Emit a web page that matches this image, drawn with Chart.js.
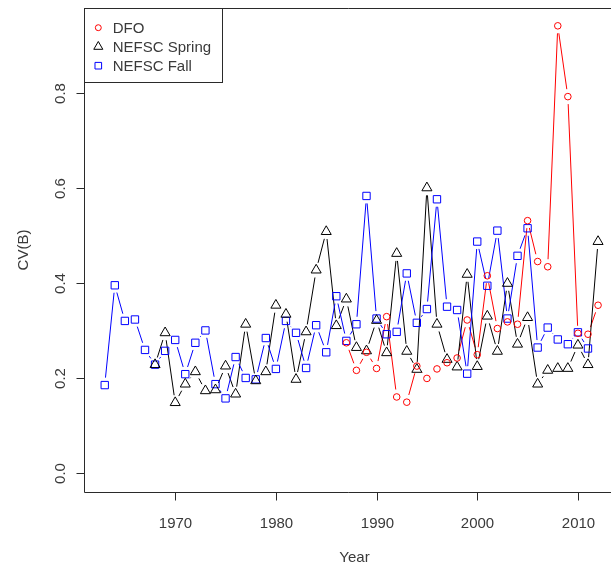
<!DOCTYPE html>
<html>
<head>
<meta charset="utf-8">
<script src="https://cdn.jsdelivr.net/npm/chart.js@4.4.1/dist/chart.umd.min.js"></script>
<style>
  html, body { margin: 0; padding: 0; background: #fff; }
  canvas { display: block; }
</style>
</head>
<body>
<canvas id="cvChart" width="611" height="570"></canvas>
<script>
// Survey years and CV(B) per survey (null = no survey that year)
const years = [1963, 1964, 1965, 1966, 1967, 1968, 1969, 1970, 1971, 1972,
               1973, 1974, 1975, 1976, 1977, 1978, 1979, 1980, 1981, 1982,
               1983, 1984, 1985, 1986, 1987, 1988, 1989, 1990, 1991, 1992,
               1993, 1994, 1995, 1996, 1997, 1998, 1999, 2000, 2001, 2002,
               2003, 2004, 2005, 2006, 2007, 2008, 2009, 2010, 2011, 2012];

const dfo = [null, null, null, null, null, null, null, null, null, null,
             null, null, null, null, null, null, null, null, null, null,
             null, null, null, null, 0.275, 0.217, 0.255, 0.221, 0.330, 0.161,
             0.150, 0.226, 0.200, 0.220, 0.233, 0.243, 0.323, 0.250, 0.416, 0.305,
             0.319, 0.314, 0.532, 0.446, 0.435, 0.942, 0.793, 0.295, 0.293, 0.354];

const spring = [null, null, null, null, null, 0.229, 0.296, 0.149, 0.188, 0.214,
                0.174, 0.176, 0.226, 0.167, 0.314, 0.195, 0.214, 0.354, 0.335, 0.198,
                0.298, 0.428, 0.509, 0.311, 0.367, 0.265, 0.258, 0.322, 0.254, 0.463,
                0.257, 0.219, 0.601, 0.314, 0.240, 0.224, 0.419, 0.225, 0.331, 0.257,
                0.400, 0.272, 0.328, 0.188, 0.217, 0.221, 0.221, 0.270, 0.229, 0.488];

const fall = [0.186, 0.396, 0.321, 0.324, 0.260, 0.229, 0.258, 0.281, 0.209, 0.275,
              0.301, 0.188, 0.158, 0.245, 0.201, 0.198, 0.285, 0.220, 0.321, 0.296,
              0.222, 0.312, 0.255, 0.373, 0.279, 0.314, 0.584, 0.326, 0.293, 0.298,
              0.421, 0.317, 0.346, 0.577, 0.351, 0.344, 0.210, 0.488, 0.395, 0.511,
              0.326, 0.458, 0.516, 0.265, 0.307, 0.282, 0.272, 0.297, 0.263, null];

const xTicks = [1970, 1980, 1990, 2000, 2010];
const yTicks = [0.0, 0.2, 0.4, 0.6, 0.8];

const FONT = '15px "Liberation Sans", Arial, sans-serif';
const INK = '#2a2a2a';
const TEXT = '#3a3a3a';

function toPoints(values) {
    return years.map((yr, i) => ({ x: yr, y: values[i] })).filter(p => p.y !== null);
}

function series(label, values, color, style, radius) {
    return {
        label: label,
        data: toPoints(values),
        showLine: false,
        borderColor: color,
        pointStyle: style,
        pointRadius: radius,
        pointBorderColor: color,
        pointBackgroundColor: 'rgba(0,0,0,0)',
        pointBorderWidth: 1,
        clip: false,
    };
}

// R-style "type = b": segments between points that stop short of the symbols
const GAP = 7.5;

const rPlot = {
    id: 'rPlot',
    beforeDatasetsDraw(chart) {
        const ctx = chart.ctx;
        chart.data.datasets.forEach((ds, i) => {
            const pts = chart.getDatasetMeta(i).data;
            ctx.save();
            ctx.strokeStyle = ds.borderColor;
            ctx.lineWidth = 1;
            ctx.beginPath();
            for (let k = 1; k < pts.length; k++) {
                const a = pts[k - 1], b = pts[k];
                const dx = b.x - a.x, dy = b.y - a.y;
                const len = Math.hypot(dx, dy);
                if (len <= 2 * GAP) continue;
                const ux = dx / len, uy = dy / len;
                ctx.moveTo(a.x + ux * GAP, a.y + uy * GAP);
                ctx.lineTo(b.x - ux * GAP, b.y - uy * GAP);
            }
            ctx.stroke();
            ctx.restore();
        });
    },
    afterDraw(chart) {
        const ctx = chart.ctx;
        const xs = chart.scales.x, ys = chart.scales.y;
        const area = chart.chartArea;
        const left = Math.floor(area.left) - 0.5;
        const top = Math.floor(area.top) + 0.5;
        const bottom = Math.floor(area.bottom) + 0.5;

        ctx.save();
        ctx.strokeStyle = INK;
        ctx.lineWidth = 1;

        // plot box (right side runs off the picture)
        ctx.beginPath();
        ctx.moveTo(area.right + 20, top);
        ctx.lineTo(left, top);
        ctx.lineTo(left, bottom);
        ctx.lineTo(area.right + 20, bottom);
        ctx.stroke();

        ctx.font = FONT;
        ctx.fillStyle = TEXT;

        // x axis ticks and labels
        ctx.textAlign = 'center';
        ctx.textBaseline = 'alphabetic';
        xTicks.forEach(t => {
            const px = Math.round(xs.getPixelForValue(t)) + 0.5;
            ctx.beginPath();
            ctx.moveTo(px, bottom);
            ctx.lineTo(px, bottom + 8);
            ctx.stroke();
            ctx.fillText(String(t), px, 528);
        });

        // y axis ticks and rotated labels
        yTicks.forEach(t => {
            const py = Math.round(ys.getPixelForValue(t)) + 0.5;
            ctx.beginPath();
            ctx.moveTo(left, py);
            ctx.lineTo(left - 8, py);
            ctx.stroke();
            ctx.save();
            ctx.translate(65, py);
            ctx.rotate(-Math.PI / 2);
            ctx.fillText(t.toFixed(1), 0, 0);
            ctx.restore();
        });

        // axis titles
        ctx.fillText('Year', 354.5, 562);
        ctx.save();
        ctx.translate(27.5, (area.top + area.bottom) / 2);
        ctx.rotate(-Math.PI / 2);
        ctx.fillText('CV(B)', 0, 0);
        ctx.restore();

        // legend box, top-left corner inside the plot
        const lx = left, ly = top, lw = 138, lh = 74;
        ctx.fillStyle = '#fff';
        ctx.fillRect(lx, ly, lw, lh);
        ctx.strokeRect(lx, ly, lw, lh);
        ctx.textAlign = 'left';
        ctx.textBaseline = 'middle';
        chart.data.datasets.forEach((ds, i) => {
            const cy = 27.7 + i * 19;
            ctx.strokeStyle = ds.pointBorderColor;
            ctx.fillStyle = 'rgba(0,0,0,0)';
            Chart.helpers.drawPoint(ctx, {
                pointStyle: ds.pointStyle,
                radius: ds.pointRadius * 0.9,
                rotation: 0,
                borderWidth: 1,
            }, 98.3, cy);
            ctx.fillStyle = TEXT;
            ctx.fillText(ds.label, 112.7, cy + 1);
        });
        ctx.restore();
    }
};

const ctx = document.getElementById('cvChart').getContext('2d');
new Chart(ctx, {
    type: 'scatter',
    data: {
        datasets: [
            series('DFO', dfo, '#ff0000', 'circle', 3.3),
            series('NEFSC Spring', spring, '#000000', 'triangle', 5.8),
            series('NEFSC Fall', fall, '#0000ff', 'rect', 5.2),
        ],
    },
    options: {
        responsive: false,
        animation: false,
        events: [],
        layout: { padding: { left: 85, top: 8, right: 0, bottom: 78 } },
        plugins: {
            legend: { display: false },
            tooltip: { enabled: false },
        },
        scales: {
            x: { type: 'linear', min: 1961.04, max: 2012.61, display: false },
            y: { type: 'linear', min: -0.039, max: 0.9795, display: false },
        },
    },
    plugins: [rPlot],
});
</script>
</body>
</html>
